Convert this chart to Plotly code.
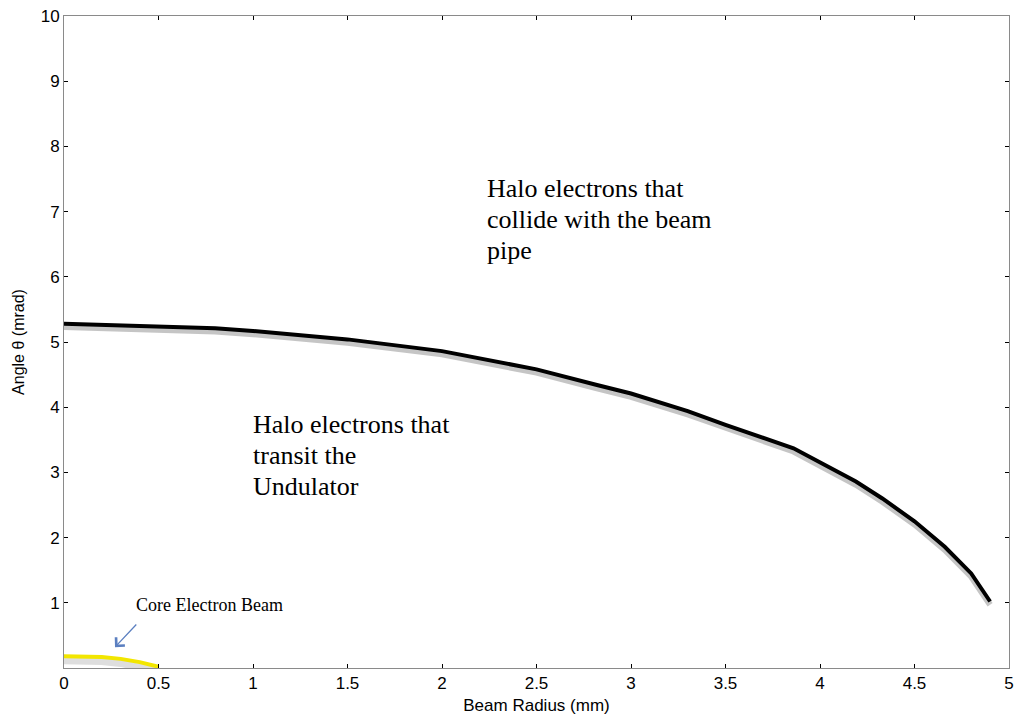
import plotly.graph_objects as go

# Halo boundary curve (Beam radius mm, Angle mrad)
radius = [0.0, 0.4, 0.8, 1.0, 1.5, 2.0, 2.5, 2.82, 3.0, 3.3, 3.5, 3.86, 4.19, 4.33, 4.5, 4.66, 4.8, 4.9]
angle = [5.28, 5.25, 5.21, 5.17, 5.04, 4.86, 4.58, 4.34, 4.21, 3.94, 3.73, 3.37, 2.86, 2.6, 2.25, 1.86, 1.45, 1.02]

# Core electron beam (yellow)
core_r = [0.0, 0.1, 0.2, 0.3, 0.4, 0.5]
core_a = [0.18, 0.18, 0.17, 0.14, 0.09, 0.02]

x_ticks = [0, 0.5, 1, 1.5, 2, 2.5, 3, 3.5, 4, 4.5, 5]
x_ticklabels = ["0", "0.5", "1", "1.5", "2", "2.5", "3", "3.5", "4", "4.5", "5"]
y_ticks = [1, 2, 3, 4, 5, 6, 7, 8, 9, 10]

upper_lines = ["Halo electrons that", "collide with the beam", "pipe"]
lower_lines = ["Halo electrons that", "transit the", "Undulator"]

fig = go.Figure()
# shadow
fig.add_trace(go.Scatter(x=radius, y=[a - 0.05 for a in angle], mode="lines",
                         line=dict(color="rgba(150,150,150,0.55)", width=6), hoverinfo="skip"))
fig.add_trace(go.Scatter(x=radius, y=angle, mode="lines",
                         line=dict(color="black", width=4)))
fig.add_trace(go.Scatter(x=core_r, y=[a - 0.07 for a in core_a], mode="lines",
                         line=dict(color="rgba(190,190,190,0.5)", width=7), hoverinfo="skip"))
fig.add_trace(go.Scatter(x=core_r, y=core_a, mode="lines",
                         line=dict(color="#f2e600", width=4)))

serif = "Liberation Serif, Times New Roman, serif"
sans = "Liberation Sans, Arial, sans-serif"
y0 = 7.36
for i, t in enumerate(upper_lines):
    fig.add_annotation(x=2.23, y=y0 - i * 0.48, text=t, showarrow=False, xanchor="left",
                       yanchor="middle", font=dict(family=serif, size=26, color="black"))
y1 = 3.73
for i, t in enumerate(lower_lines):
    fig.add_annotation(x=0.99, y=y1 - i * 0.47, text=t, showarrow=False, xanchor="left",
                       yanchor="middle", font=dict(family=serif, size=26, color="black"))

fig.add_annotation(x=0.37, y=0.97, text="Core Electron Beam", showarrow=False, xanchor="left",
                   yanchor="middle", font=dict(family=serif, size=18, color="black"))
fig.add_annotation(x=0.27, y=0.32, ax=0.39, ay=0.69, xref="x", yref="y", axref="x", ayref="y",
                   text="", showarrow=True, arrowhead=4, arrowsize=1.8, arrowwidth=1.3,
                   arrowcolor="#5b7fc0")

axis_common = dict(showline=True, linecolor="#8a8a8a", linewidth=1, mirror="ticks",
                   ticks="inside", ticklen=4, tickcolor="black", showgrid=False, zeroline=False,
                   tickfont=dict(family=sans, size=17, color="black"))

fig.update_xaxes(range=[0, 5], tickvals=x_ticks, ticktext=x_ticklabels,
                 title=dict(text="Beam Radius (mm)", standoff=6,
                            font=dict(family=sans, size=17, color="black")),
                 **axis_common)
fig.update_yaxes(range=[0, 10], tickvals=y_ticks,
                 title=dict(text="Angle θ (mrad)", standoff=12,
                            font=dict(family=sans, size=16, color="black")),
                 **axis_common)

fig.update_layout(width=1020, height=717, showlegend=False,
                  margin=dict(l=64, r=6, t=16, b=49),
                  plot_bgcolor="white", paper_bgcolor="white")

fig.write_html("out.html")
